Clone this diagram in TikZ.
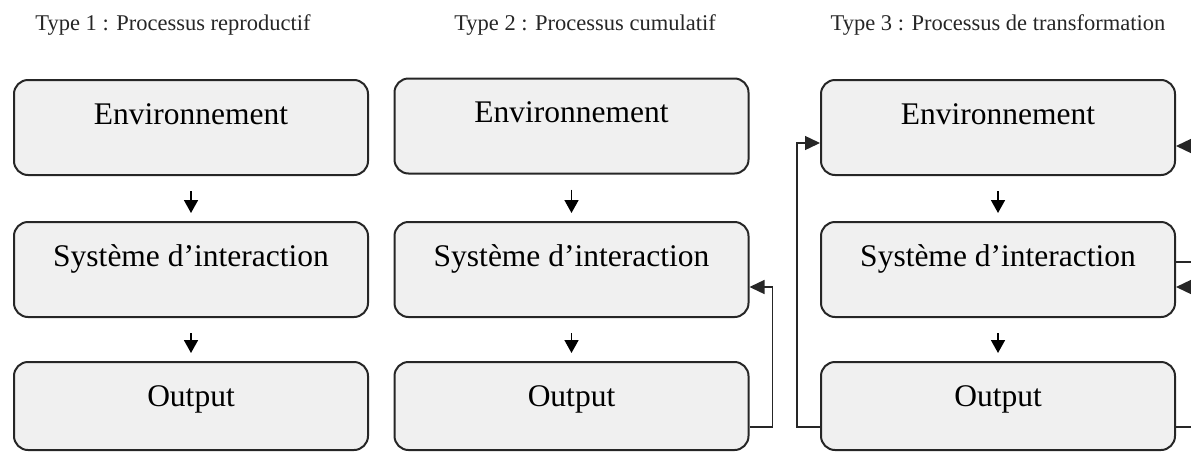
\documentclass[tikz,border=0pt]{standalone}
\usepackage{fontspec}
\setmainfont{Liberation Serif}
\usetikzlibrary{arrows.meta}
\tikzset{
  box/.style={draw=black!85, line width=2pt, rounded corners=14pt, fill=gray!12,
    minimum width=354pt, inner sep=0pt, text height=44pt, text depth=51pt,
    font=\fontsize{31.5}{36}\selectfont},
  outbox/.style={box, text depth=44pt},
  ttl/.style={anchor=base, inner sep=0pt, font=\fontsize{22.5}{26}\selectfont, text=black!85},
  down/.style={line width=1.7pt, -{Triangle[length=13pt,width=14pt]}, shorten <=15pt, shorten >=8pt},
  fb/.style={line width=1.4pt, black!85},
  fbarr/.style={fb, -{Triangle[length=15pt,width=14pt]}}
}
\begin{document}
\begin{tikzpicture}[x=1pt,y=-1pt]
\useasboundingbox (0,0) rectangle (1191,453);
% titles
\node[ttl] (t1) at (173,30) {Type 1 : Processus reproductif};
\node[ttl] (t2) at (585,30) {Type 2 : Processus cumulatif};
\node[ttl] (t3) at (998,30) {Type 3 : Processus de transformation};
% column 1
\node[box] (e1) at (191,127.5) {Environnement};
\node[box] (s1) at (191,269.5) {Système d’interaction};
\node[outbox] (o1) at (191,406) {Output};
% column 2
\node[box] (e2) at (571.5,126) {Environnement};
\node[box] (s2) at (571.5,269.5) {Système d’interaction};
\node[outbox] (o2) at (571.5,406) {Output};
% column 3
\node[box] (e3) at (998,127.5) {Environnement};
\node[box] (s3) at (998,269.5) {Système d’interaction};
\node[outbox] (o3) at (998,406) {Output};
% vertical arrows
\draw[down] (e1) -- (s1);
\draw[down] (s1) -- (o1);
\draw[down] (e2) -- (s2);
\draw[down] (s2) -- (o2);
\draw[down] (e3) -- (s3);
\draw[down] (s3) -- (o3);
% feedback type 2
\draw[fbarr] ([yshift=-21pt]o2.east) -- ++(23,0) |- ([yshift=-17.5pt]s2.east);
% feedback type 3 (left)
\draw[fbarr] ([yshift=-21pt]o3.west) -- ++(-23,0) |- ([yshift=-15.5pt]e3.west);
% right edge connectors of type 3
\coordinate (re) at (1191,146);
\coordinate (rsout) at (1191,262);
\coordinate (rsin) at (1191,287);
\coordinate (ro) at (1191,427);
\draw[fbarr] (re) -- (re -| e3.east);
\draw[fb] (rsout -| s3.east) -- (rsout);
\draw[fbarr] (rsin) -- (rsin -| s3.east);
\draw[fb] (ro -| o3.east) -- (ro);
\end{tikzpicture}
\end{document}
